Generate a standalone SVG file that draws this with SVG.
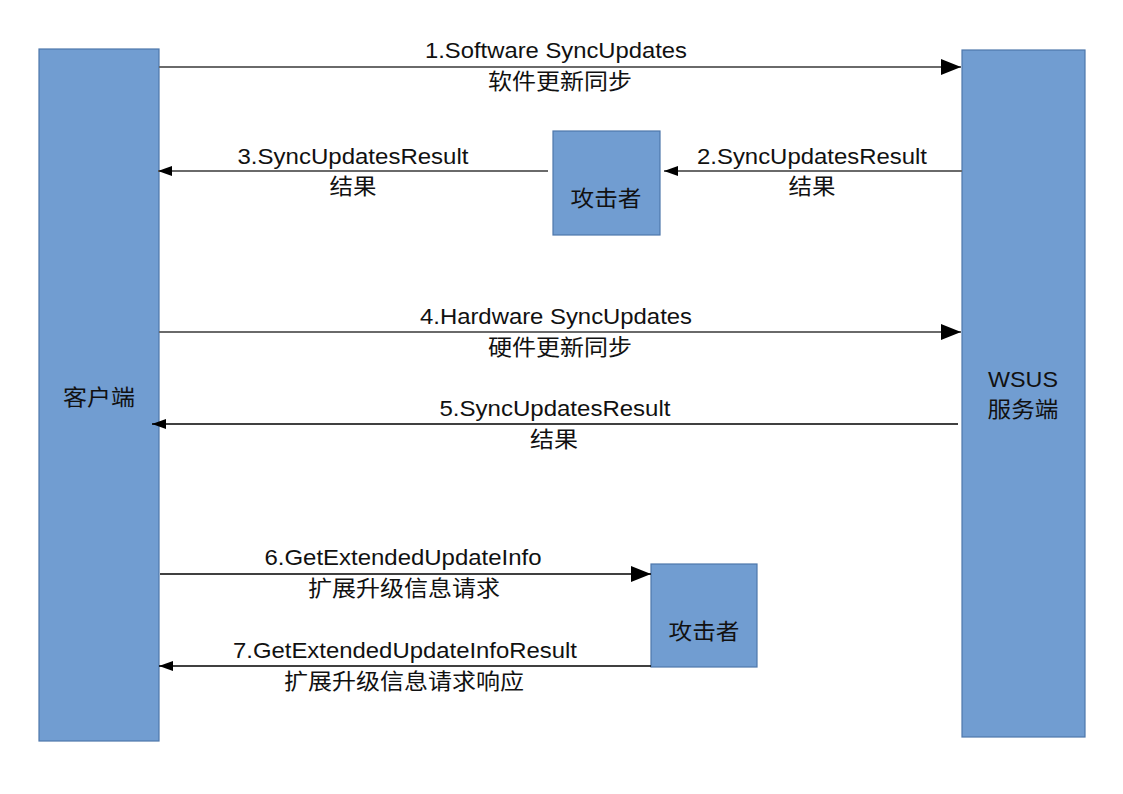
<svg xmlns="http://www.w3.org/2000/svg" width="1123" height="794" viewBox="0 0 1123 794">
<style>
.box{fill:#719dd1;stroke:#4e77ab;stroke-width:1.2}
.t{font-family:"Liberation Sans","Noto Sans CJK SC",sans-serif;font-size:22px;fill:#111;text-anchor:middle}
.g{stroke:#6a6a6a;stroke-width:2;fill:none}
.k{stroke:#000;stroke-width:1.5;fill:none}
</style>
<defs>
<marker id="big" markerWidth="20" markerHeight="16" refX="20" refY="8" orient="auto" markerUnits="userSpaceOnUse">
<path d="M0,0 L20,8 L0,16 Z" fill="#000"/>
</marker>
<marker id="small" markerWidth="14" markerHeight="10" refX="14" refY="5" orient="auto" markerUnits="userSpaceOnUse">
<path d="M0,0 L14,5 L0,10 Z" fill="#000"/>
</marker>
</defs>
<rect width="1123" height="794" fill="#fff"/>
<g id="client">
<rect class="box" x="39" y="49" width="120" height="692"/>
<text class="t" x="99" y="405" textLength="72" lengthAdjust="spacingAndGlyphs">客户端</text>
</g>
<g id="wsus">
<rect class="box" x="962" y="50" width="123" height="687"/>
<text class="t" x="1023" y="387" textLength="70" lengthAdjust="spacingAndGlyphs">WSUS</text>
<text class="t" x="1023" y="417" textLength="71" lengthAdjust="spacingAndGlyphs">服务端</text>
</g>
<g id="attacker1">
<rect class="box" x="553" y="131" width="107" height="104"/>
<text class="t" x="606" y="206" textLength="71" lengthAdjust="spacingAndGlyphs">攻击者</text>
</g>
<g id="attacker2">
<rect class="box" x="651" y="564" width="106" height="103"/>
<text class="t" x="704" y="639" textLength="71" lengthAdjust="spacingAndGlyphs">攻击者</text>
</g>
<g id="connectors">
<line class="g" x1="159" y1="67" x2="961" y2="67" marker-end="url(#big)"/>
<line class="g" x1="962" y1="171" x2="664" y2="171" marker-end="url(#small)"/>
<line class="g" x1="548" y1="171" x2="158" y2="171" marker-end="url(#small)"/>
<line class="g" x1="159" y1="332" x2="961" y2="332" marker-end="url(#big)"/>
<line class="k" x1="958" y1="424" x2="152" y2="424" marker-end="url(#small)"/>
<line class="k" x1="160" y1="574" x2="651" y2="574" marker-end="url(#big)"/>
<line class="k" x1="651" y1="666" x2="159" y2="666" marker-end="url(#small)"/>
</g>
<g id="labels">
<text class="t" x="556" y="58" textLength="262" lengthAdjust="spacingAndGlyphs">1.Software SyncUpdates</text>
<text class="t" x="560" y="89" textLength="144" lengthAdjust="spacingAndGlyphs">软件更新同步</text>
<text class="t" x="812" y="164" textLength="230" lengthAdjust="spacingAndGlyphs">2.SyncUpdatesResult</text>
<text class="t" x="812" y="194" textLength="47" lengthAdjust="spacingAndGlyphs">结果</text>
<text class="t" x="353" y="164" textLength="231" lengthAdjust="spacingAndGlyphs">3.SyncUpdatesResult</text>
<text class="t" x="353" y="194" textLength="47" lengthAdjust="spacingAndGlyphs">结果</text>
<text class="t" x="556" y="324" textLength="272" lengthAdjust="spacingAndGlyphs">4.Hardware SyncUpdates</text>
<text class="t" x="560" y="355" textLength="144" lengthAdjust="spacingAndGlyphs">硬件更新同步</text>
<text class="t" x="555" y="416" textLength="231" lengthAdjust="spacingAndGlyphs">5.SyncUpdatesResult</text>
<text class="t" x="554" y="447" textLength="48" lengthAdjust="spacingAndGlyphs">结果</text>
<text class="t" x="403" y="565" textLength="277" lengthAdjust="spacingAndGlyphs">6.GetExtendedUpdateInfo</text>
<text class="t" x="404" y="596" textLength="192" lengthAdjust="spacingAndGlyphs">扩展升级信息请求</text>
<text class="t" x="405" y="658" textLength="344" lengthAdjust="spacingAndGlyphs">7.GetExtendedUpdateInfoResult</text>
<text class="t" x="404" y="689" textLength="240" lengthAdjust="spacingAndGlyphs">扩展升级信息请求响应</text>
</g>
</svg>
